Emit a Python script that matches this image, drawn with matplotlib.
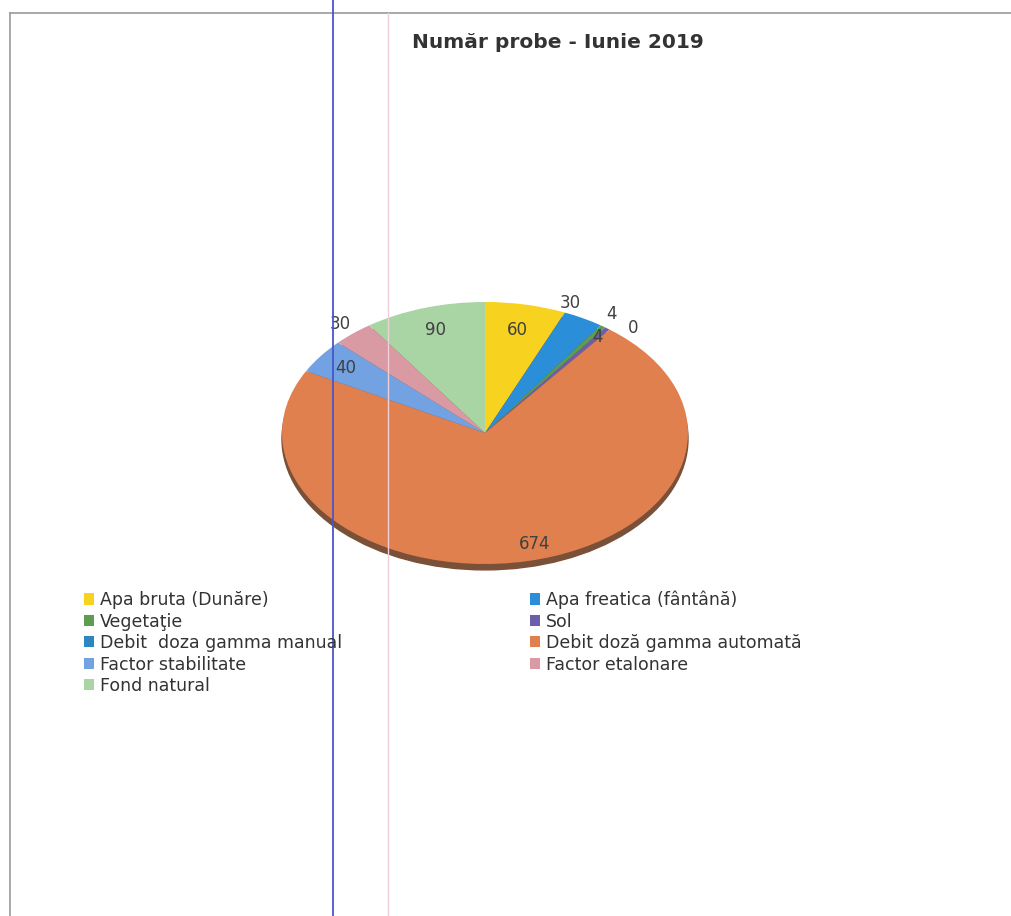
import numpy as np
import matplotlib.pyplot as plt
from matplotlib.patches import Ellipse, Patch
from matplotlib.lines import Line2D

categories = ["Apa bruta (Dunăre)", "Apa freatica (fântână)", "Vegetaţie", "Sol",
              "Debit  doza gamma manual", "Debit doză gamma automată",
              "Factor stabilitate", "Factor etalonare", "Fond natural"]
values = [60, 30, 4, 4, 0, 674, 40, 30, 90]
colors = ["#f7d21e", "#2b8ed8", "#5c9e4e", "#6a5fa8", "#2e86c1",
          "#e0804e", "#73a2e2", "#d99aa3", "#a9d4a4"]
# data label placement: radius (fraction of pie radius) and angle shift (deg)
label_r = [0.80, 1.08, 1.10, 0.92, 1.08, 0.88, 0.85, 1.10, 0.82]
label_da = [0, 6, 1, 0, -4.5, 4, 0, 0, 0]

fig = plt.figure(figsize=(10.11, 9.16), dpi=100)

# scan artefacts: page frame and ruled lines
fig.add_artist(Line2D([10/1011, 1], [1-13/916, 1-13/916], color="#9a9a9a", lw=1.2))
fig.add_artist(Line2D([10/1011, 10/1011], [0, 1-13/916], color="#9a9a9a", lw=1.2))
fig.add_artist(Line2D([333/1011, 333/1011], [0, 1], color="#4a55c8", lw=1.3))
fig.add_artist(Line2D([388/1011, 388/1011], [0, 1-13/916], color="#f0d0d6", lw=1.0))

fig.text(558/1011, 1-42/916, "Număr probe - Iunie 2019", ha="center", va="center",
         fontsize=14.5, fontweight="bold", color="#333333", family="DejaVu Sans")

ax = fig.add_axes([282/1011, 1-564/916, 406/1011, 262/916])
ax.add_patch(Ellipse((0, -0.045), 2.0, 2.0, color="#7a5038", zorder=0, clip_on=False))
wedges, _ = ax.pie(values, colors=colors, startangle=90, counterclock=False,
                   radius=1, wedgeprops=dict(linewidth=0))
ax.set_aspect("auto")
ax.set_xlim(-1, 1)
ax.set_ylim(-1, 1)
ax.axis("off")

for w, v, r, da in zip(wedges, values, label_r, label_da):
    ang = np.deg2rad((w.theta1 + w.theta2) / 2 + da)
    ax.text(r*np.cos(ang), r*np.sin(ang), str(v), ha="center", va="center",
            fontsize=12, color="#404040", family="DejaVu Sans", clip_on=False)

handles = [Patch(facecolor=c, edgecolor="none") for c in colors]
order = [0, 2, 4, 6, 8, 1, 3, 5, 7]
fig.legend([handles[i] for i in order], [categories[i] for i in order],
           loc="upper left", bbox_to_anchor=(68/1011, 1-575/916), ncol=2,
           frameon=False, handlelength=0.6, handleheight=0.6,
           handletextpad=0.35, labelspacing=0.2, columnspacing=10.8,
           prop=dict(family="DejaVu Sans", size=12.5), labelcolor="#333333")

fig.savefig("out.png", dpi=100, facecolor="white")
